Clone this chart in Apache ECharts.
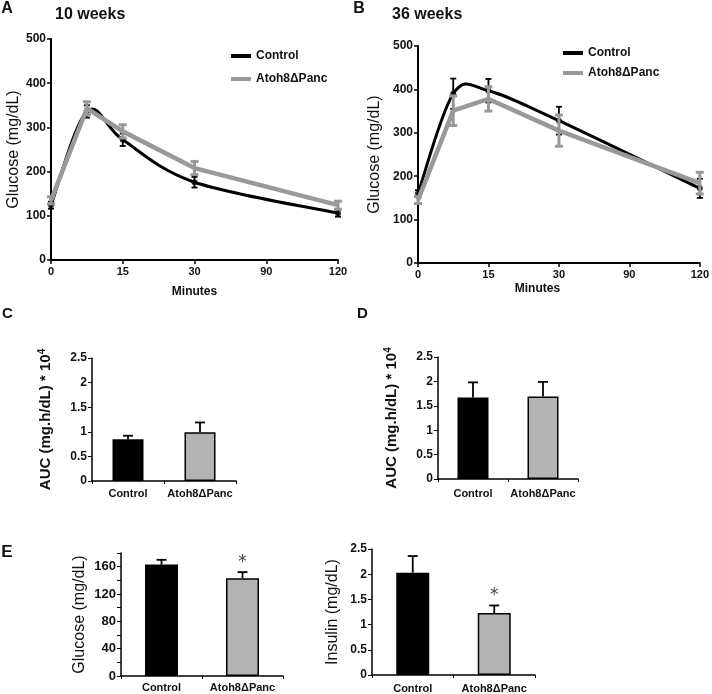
<!DOCTYPE html>
<html>
<head>
<meta charset="utf-8">
<script src="https://cdn.jsdelivr.net/npm/echarts@6/dist/echarts.min.js"></script>
<style>
html,body{margin:0;padding:0;background:#fff;}
#chart{width:712px;height:694px;}
</style>
</head>
<body>
<div id="chart"></div>
<script>
// ---------- data ----------
const times = [0, 7.5, 15, 30, 120];
const xTickValues = [0, 15, 30, 90, 120];
const xTickLabels = ['0', '15', '30', '90', '120'];

const wk10Control = [124, 336, 272, 176, 106];
const wk10ControlErr = [8, 14, 14, 12, 8];
const wk10Atoh = [135, 343, 291, 208, 124];
const wk10AtohErr = [8, 15, 15, 15, 9];

const wk36Control = [160, 390, 397, 328, 172];
const wk36ControlErr = [8, 35, 27, 32, 22];
const wk36Atoh = [145, 351, 378, 305, 184];
const wk36AtohErr = [8, 34, 28, 36, 25];

const groups = ['Control', 'Atoh8\u0394Panc'];
const auc10 = [0.85, 0.99];
const auc10Err = [0.07, 0.2];
const auc36 = [1.67, 1.69];
const auc36Err = [0.31, 0.3];
const fastGlucose = [163, 143];
const fastGlucoseErr = [7, 9];
const fastInsulin = [2.03, 1.23];
const fastInsulinErr = [0.33, 0.15];
const significant = [false, true];

// ---------- styling ----------
const FONT = '"Liberation Sans", Arial, sans-serif';
const BLACK = '#000000';
const GRAY = '#999999';
const BAR_GRAY = '#b3b3b3';
const barColors = [BLACK, BAR_GRAY];

// broken time axis: ticks evenly spaced, linear between ticks
function timePos(t) {
  for (let i = 0; i < xTickValues.length - 1; i++) {
    if (t <= xTickValues[i + 1]) {
      return i + (t - xTickValues[i]) / (xTickValues[i + 1] - xTickValues[i]);
    }
  }
  return xTickValues.length - 1;
}

function linePoints(vals) { return times.map((t, i) => [timePos(t), vals[i]]); }
function errPoints(vals, errs) { return times.map((t, i) => [timePos(t), vals[i], errs[i]]); }

// Catmull-Rom style curve through the data points (pixel coords from the axes)
function splineRender(color, width) {
  return function (params, api) {
    const n = params.dataInsideLength !== undefined ? times.length : times.length;
    const i = params.dataIndex;
    if (i >= times.length - 1) return null;
    const pts = [];
    for (let j = 0; j < times.length; j++) {
      pts.push(api.coord([api.value(0, j), api.value(1, j)]));
    }
    const p0 = pts[Math.max(i - 1, 0)], p1 = pts[i], p2 = pts[i + 1], p3 = pts[Math.min(i + 2, pts.length - 1)];
    const k = 1 / 6;
    return {
      type: 'bezierCurve',
      shape: {
        x1: p1[0], y1: p1[1], x2: p2[0], y2: p2[1],
        cpx1: p1[0] + (p2[0] - p0[0]) * k, cpy1: p1[1] + (p2[1] - p0[1]) * k,
        cpx2: p2[0] - (p3[0] - p1[0]) * k, cpy2: p2[1] - (p3[1] - p1[1]) * k
      },
      style: { stroke: color, lineWidth: width, fill: null, lineCap: 'round' }
    };
  };
}

function lineErrRender(color, width, cap) {
  return function (params, api) {
    const x = api.value(0), y = api.value(1), e = api.value(2);
    const top = api.coord([x, y + e]);
    const bot = api.coord([x, y - e]);
    const st = { stroke: color, lineWidth: width };
    return {
      type: 'group',
      children: [
        { type: 'line', shape: { x1: top[0], y1: top[1], x2: bot[0], y2: bot[1] }, style: st },
        { type: 'line', shape: { x1: top[0] - cap, y1: top[1], x2: top[0] + cap, y2: top[1] }, style: st },
        { type: 'line', shape: { x1: bot[0] - cap, y1: bot[1], x2: bot[0] + cap, y2: bot[1] }, style: st }
      ]
    };
  };
}

function barErrRender(params, api) {
  const i = api.value(0), y = api.value(1), e = api.value(2), s = api.value(3);
  const top = api.coord([i, y + e]);
  const base = api.coord([i, y]);
  const st = { stroke: BLACK, lineWidth: 1.8 };
  const children = [
    { type: 'line', shape: { x1: top[0], y1: top[1], x2: base[0], y2: base[1] }, style: st },
    { type: 'line', shape: { x1: top[0] - 5, y1: top[1], x2: top[0] + 5, y2: top[1] }, style: st }
  ];
  if (s) {
    children.push({ type: 'text', style: { text: '*', x: top[0], y: top[1] - 1, align: 'center', verticalAlign: 'bottom', font: '17px "DejaVu Sans", sans-serif', fill: '#444' } });
  }
  return { type: 'group', children: children };
}

function barErrData(vals, errs) { return vals.map((v, i) => [i, v, errs[i], 0]); }
function barErrDataSig(vals, errs) { return vals.map((v, i) => [i, v, errs[i], significant[i] ? 1 : 0]); }

const tickLabel = (size) => ({ color: '#111', fontFamily: FONT, fontWeight: 'bold', fontSize: size });

function timeXAxis(gridIndex, nameGap, namePad) {
  return {
    type: 'value', gridIndex: gridIndex, min: 0, max: xTickValues.length - 1, interval: 1,
    axisLine: { show: true, lineStyle: { color: BLACK, width: 2 } },
    axisTick: { show: true, length: 4, lineStyle: { color: BLACK, width: 1.5 } },
    splitLine: { show: false },
    axisLabel: Object.assign({ margin: 6, formatter: (v) => xTickLabels[v] }, tickLabel(11)),
    name: 'Minutes', nameLocation: 'middle', nameGap: nameGap,
    nameTextStyle: { color: '#111', fontFamily: FONT, fontWeight: 'bold', fontSize: 12, padding: namePad }
  };
}
function glucYAxis(gridIndex, nameGap) {
  return {
    type: 'value', gridIndex: gridIndex, min: 0, max: 500, interval: 100,
    axisLine: { show: true, lineStyle: { color: BLACK, width: 2 } },
    axisTick: { show: true, length: 4, lineStyle: { color: BLACK, width: 1.5 } },
    splitLine: { show: false },
    axisLabel: Object.assign({ margin: 5 }, tickLabel(12)),
    name: 'Glucose (mg/dL)', nameLocation: 'middle', nameGap: nameGap,
    nameTextStyle: { color: '#111', fontFamily: FONT, fontSize: 16 }
  };
}
function catXAxis(gridIndex, size, margin) {
  return {
    type: 'category', gridIndex: gridIndex, data: groups,
    axisLine: { show: true, lineStyle: { color: BLACK, width: 1.5 } },
    axisTick: { show: true, length: 3, lineStyle: { color: BLACK, width: 1 } },
    axisLabel: Object.assign({ margin: margin, interval: 0 }, tickLabel(size))
  };
}
function barYAxis(gridIndex, max, interval, name, nameGap, nameStyle, labelSize, labelFmt) {
  return {
    type: 'value', gridIndex: gridIndex, min: 0, max: max, interval: interval,
    axisLine: { show: true, lineStyle: { color: BLACK, width: 1.5 } },
    axisTick: { show: true, length: 4, lineStyle: { color: BLACK, width: 1 } },
    splitLine: { show: false },
    axisLabel: Object.assign({ margin: 5, formatter: labelFmt }, tickLabel(labelSize)),
    name: name, nameLocation: 'middle', nameGap: nameGap,
    nameTextStyle: nameStyle
  };
}

const aucNameStyle = {
  color: '#111', fontFamily: FONT, fontWeight: 'bold', fontSize: 15,
  rich: { sup: { fontSize: 10, fontWeight: 'bold', fontFamily: FONT, color: '#111', verticalAlign: 'top', padding: [0, 0, 8, 0] } }
};

function barSeries(x, vals, width) {
  return {
    type: 'bar', xAxisIndex: x, yAxisIndex: x, barWidth: width, silent: true,
    data: vals.map((v, i) => ({ value: v, itemStyle: { color: barColors[i], borderColor: BLACK, borderWidth: 1.5 } }))
  };
}

function controlSeries(axis, vals, errs) {
  return [
    { name: 'Control', type: 'custom', xAxisIndex: axis, yAxisIndex: axis, data: linePoints(vals),
      itemStyle: { color: BLACK }, renderItem: splineRender(BLACK, 3), z: 3 },
    { type: 'scatter', xAxisIndex: axis, yAxisIndex: axis, data: linePoints(vals), symbol: 'circle', symbolSize: 6,
      itemStyle: { color: BLACK }, z: 3, silent: true },
    { type: 'custom', xAxisIndex: axis, yAxisIndex: axis, data: errPoints(vals, errs),
      renderItem: lineErrRender(BLACK, 1.8, 3), z: 3 }
  ];
}
function atohSeries(axis, vals, errs) {
  return [
    { name: 'Atoh8\u0394Panc', type: 'line', xAxisIndex: axis, yAxisIndex: axis, data: linePoints(vals),
      symbol: 'none', lineStyle: { color: GRAY, width: 4.5 }, itemStyle: { color: GRAY }, z: 4 },
    { type: 'custom', xAxisIndex: axis, yAxisIndex: axis, data: errPoints(vals, errs),
      renderItem: lineErrRender(GRAY, 3, 4), z: 4 }
  ];
}

const chart = echarts.init(document.getElementById('chart'), null, { renderer: 'canvas' });

const option = {
  animation: false,
  backgroundColor: '#ffffff',
  textStyle: { fontFamily: FONT },
  grid: [
    { left: 51, top: 39, width: 287, height: 221 },
    { left: 418, top: 46, width: 285, height: 217 },
    { left: 92, top: 358, width: 144, height: 123 },
    { left: 438, top: 357, width: 140, height: 122 },
    { left: 121, top: 553, width: 162, height: 123 },
    { left: 372, top: 549, width: 163, height: 127 }
  ],
  xAxis: [
    timeXAxis(0, 26, [0, 0, 0, 0]),
    timeXAxis(1, 20, [0, 43, 0, 0]),
    catXAxis(2, 11, 7),
    catXAxis(3, 11, 9),
    catXAxis(4, 11, 6),
    catXAxis(5, 11, 8)
  ],
  yAxis: [
    glucYAxis(0, 29),
    glucYAxis(1, 35),
    barYAxis(2, 2.5, 0.5, 'AUC (mg.h/dL) * 10{sup|4}', 37, aucNameStyle, 12),
    barYAxis(3, 2.5, 0.5, 'AUC (mg.h/dL) * 10{sup|4}', 37, aucNameStyle, 12),
    barYAxis(4, 180, 20, 'Glucose (mg/dL)', 33, { color: '#111', fontFamily: FONT, fontSize: 16 }, 13,
      (v) => (v % 40 === 0 ? String(v) : '')),
    barYAxis(5, 2.5, 0.5, 'Insulin (mg/dL)', 31, { color: '#111', fontFamily: FONT, fontSize: 16 }, 12)
  ],
  legend: [
    {
      left: 226, top: 45, orient: 'vertical', itemWidth: 20, itemHeight: 4, itemGap: 11, icon: 'rect',
      selectedMode: false, data: ['Control', 'Atoh8\u0394Panc'],
      textStyle: { color: '#111', fontFamily: FONT, fontWeight: 'bold', fontSize: 12 }
    },
    {
      left: 558, top: 42, orient: 'vertical', itemWidth: 20, itemHeight: 4, itemGap: 8, icon: 'rect',
      selectedMode: false, data: ['Control', 'Atoh8\u0394Panc'],
      textStyle: { color: '#111', fontFamily: FONT, fontWeight: 'bold', fontSize: 12 }
    }
  ],
  graphic: [
    { type: 'text', x: 7, y: 9, style: { text: 'A', font: 'bold 16px ' + FONT, align: 'center', verticalAlign: 'middle', fill: '#111' } },
    { type: 'text', x: 55, y: 15, style: { text: '10 weeks', font: 'bold 16px ' + FONT, align: 'left', verticalAlign: 'middle', fill: '#111' } },
    { type: 'text', x: 359, y: 9, style: { text: 'B', font: 'bold 16px ' + FONT, align: 'center', verticalAlign: 'middle', fill: '#111' } },
    { type: 'text', x: 392, y: 15, style: { text: '36 weeks', font: 'bold 16px ' + FONT, align: 'left', verticalAlign: 'middle', fill: '#111' } },
    { type: 'text', x: 7.5, y: 314, style: { text: 'C', font: 'bold 15px ' + FONT, align: 'center', verticalAlign: 'middle', fill: '#111' } },
    { type: 'text', x: 362.5, y: 314, style: { text: 'D', font: 'bold 15px ' + FONT, align: 'center', verticalAlign: 'middle', fill: '#111' } },
    { type: 'text', x: 7, y: 552, style: { text: 'E', font: 'bold 17px ' + FONT, align: 'center', verticalAlign: 'middle', fill: '#111' } }
  ],
  series: [].concat(
    controlSeries(0, wk10Control, wk10ControlErr),
    atohSeries(0, wk10Atoh, wk10AtohErr),
    controlSeries(1, wk36Control, wk36ControlErr),
    atohSeries(1, wk36Atoh, wk36AtohErr),
    [
      barSeries(2, auc10, 31),
      { type: 'custom', xAxisIndex: 2, yAxisIndex: 2, data: barErrData(auc10, auc10Err), renderItem: barErrRender, z: 1 },
      barSeries(3, auc36, 31),
      { type: 'custom', xAxisIndex: 3, yAxisIndex: 3, data: barErrData(auc36, auc36Err), renderItem: barErrRender, z: 1 },
      barSeries(4, fastGlucose, 33),
      { type: 'custom', xAxisIndex: 4, yAxisIndex: 4, data: barErrDataSig(fastGlucose, fastGlucoseErr), renderItem: barErrRender, z: 1 },
      barSeries(5, fastInsulin, 33),
      { type: 'custom', xAxisIndex: 5, yAxisIndex: 5, data: barErrDataSig(fastInsulin, fastInsulinErr), renderItem: barErrRender, z: 1 }
    ]
  )
};

chart.setOption(option);
</script>
</body>
</html>
